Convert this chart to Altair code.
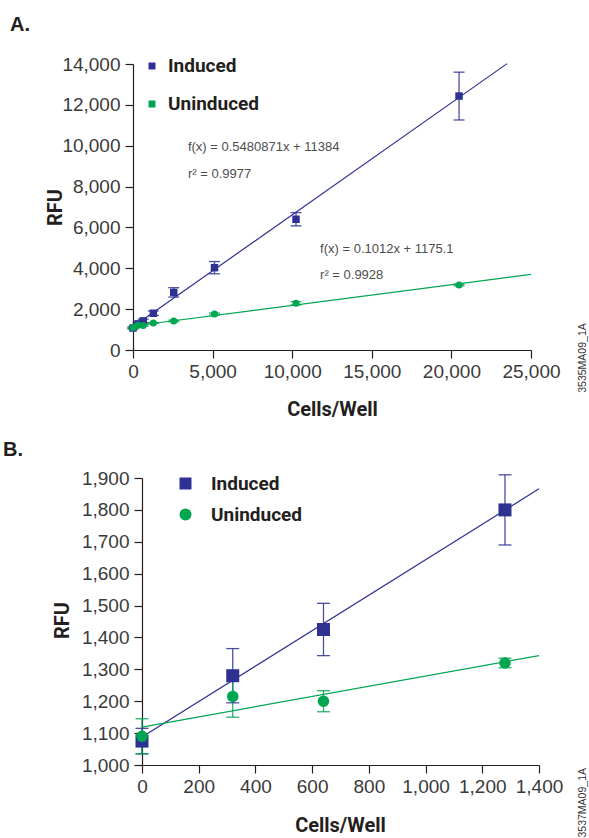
import altair as alt
import pandas as pd

# ---------------- data ----------------
series_names = ["Induced", "Uninduced"]

cells_a = [0, 320, 640, 1280, 2560, 5120, 10240, 20480]
induced_a = [1075, 1280, 1425, 1800, 2820, 4030, 6400, 12430]
induced_a_err = [40, 85, 82, 110, 230, 300, 325, 1170]
uninduced_a = [1090, 1215, 1200, 1320, 1420, 1760, 2285, 3180]
uninduced_a_err = [55, 65, 33, 15, 40, 50, 80, 40]

cells_b = [0, 320, 640, 1280]
induced_b = [1075, 1280, 1425, 1800]
induced_b_err = [40, 85, 82, 110]
uninduced_b = [1090, 1215, 1200, 1320]
uninduced_b_err = [55, 65, 33, 15]

# fitted lines (end points)
fit_a_x_induced = [0, 23500]
fit_a_y_induced = [1138, 14018]
fit_a_x_uninduced = [0, 25000]
fit_a_y_uninduced = [1175, 3705]
fit_b_x_induced = [0, 1400]
fit_b_y_induced = [1088, 1866]
fit_b_x_uninduced = [0, 1400]
fit_b_y_uninduced = [1119, 1343]

notes_a_text = ["f(x) = 0.5480871x + 11384", "r\u00b2 = 0.9977",
                "f(x) = 0.1012x + 1175.1", "r\u00b2 = 0.9928"]
notes_a_x = [3450, 3450, 11750, 11750]
notes_a_y = [9950, 8620, 4950, 3680]

BLUE = "#2e3192"
GREEN = "#00a651"
INK = "#231f20"
BOLD = "'Liberation Sans Narrow', Roboto, sans-serif"
REG = "'Liberation Sans', Arial, sans-serif"


def points_frame(cells, ind, ind_err, unind, unind_err):
    rows = []
    for c, v, e in zip(cells, ind, ind_err):
        rows.append({"cells": c, "rfu": v, "lo": v - e, "hi": v + e, "series": "Induced"})
    for c, v, e in zip(cells, unind, unind_err):
        rows.append({"cells": c, "rfu": v, "lo": v - e, "hi": v + e, "series": "Uninduced"})
    return pd.DataFrame(rows)


def fit_frame(xi, yi, xu, yu):
    rows = []
    for x, y in zip(xi, yi):
        rows.append({"cells": x, "rfu": y, "series": "Induced"})
    for x, y in zip(xu, yu):
        rows.append({"cells": x, "rfu": y, "series": "Uninduced"})
    return pd.DataFrame(rows)


color_scale = alt.Scale(domain=series_names, range=[BLUE, GREEN])
shape_scale = alt.Scale(domain=series_names, range=["square", "circle"])
stroke_enc = alt.Stroke("series:N", scale=color_scale, legend=None)


def make_panel(df, fit, xdom, xvals, ydom, yvals, w, h, msize, cap, legend,
               ytitle_pos, xtitle_pos, letter, letter_pos, code, code_pos, code_align,
               notes_df=None, manual_legend=None):
    xscale = alt.Scale(domain=xdom, nice=False)
    yscale = alt.Scale(domain=ydom, nice=False, zero=False)
    xaxis = alt.Axis(values=xvals, format=",d", title="Cells/Well",
                     titleX=xtitle_pos[0], titleY=xtitle_pos[1],
                     titleAlign="center", titleBaseline="middle")
    yaxis = alt.Axis(values=yvals, format=",d", title="RFU",
                     titleX=ytitle_pos[0], titleY=ytitle_pos[1], titleAngle=270,
                     titleAlign="center", titleBaseline="middle")

    def X(f):
        return alt.X(f, scale=xscale, axis=xaxis)

    def Y(f):
        return alt.Y(f, scale=yscale, axis=yaxis)

    base = alt.Chart(df)
    lines = alt.Chart(fit).mark_line(strokeWidth=1.2, clip=False).encode(
        x=X("cells:Q"), y=Y("rfu:Q"), stroke=stroke_enc, detail="series:N")
    rules = base.mark_rule(strokeWidth=1.3, opacity=0.85).encode(
        x=X("cells:Q"), y=Y("lo:Q"), y2="hi:Q", stroke=stroke_enc)
    half = cap / 2
    caps_lo = base.mark_rule(strokeWidth=1.3, opacity=0.85, xOffset=-half, x2Offset=half).encode(
        x=X("cells:Q"), x2="cells:Q", y=Y("lo:Q"), stroke=stroke_enc)
    caps_hi = base.mark_rule(strokeWidth=1.3, opacity=0.85, xOffset=-half, x2Offset=half).encode(
        x=X("cells:Q"), x2="cells:Q", y=Y("hi:Q"), stroke=stroke_enc)
    layers = [lines, rules, caps_lo, caps_hi]
    layers.append(base.mark_point(filled=True, opacity=1).encode(
        x=X("cells:Q"), y=Y("rfu:Q"),
        color=alt.Color("series:N", scale=color_scale, legend=legend),
        shape=alt.Shape("series:N", scale=shape_scale, legend=legend),
        size=alt.Size("series:N", scale=alt.Scale(domain=series_names, range=msize),
                      legend=None)))
    if notes_df is not None:
        layers.append(alt.Chart(notes_df).mark_text(
            font=REG, fontSize=13, color="#4d4d4d", align="left", baseline="middle").encode(
            x=X("x:Q"), y=Y("y:Q"), text="t:N"))
    if manual_legend is not None:
        sx, tx, y0, dy, ssz = manual_legend
        for i, (name, col) in enumerate(zip(series_names, [BLUE, GREEN])):
            item = alt.Chart(pd.DataFrame({"t": [name]}))
            layers.append(item.mark_point(filled=True, opacity=1, shape="square",
                                          size=ssz, color=col).encode(
                x=alt.value(sx), y=alt.value(y0 + dy * i)))
            layers.append(item.mark_text(font=BOLD, fontSize=19, fontWeight="bold",
                                         color=INK, align="left", baseline="middle").encode(
                text="t:N", x=alt.value(tx), y=alt.value(y0 + dy * i)))
    layers.append(alt.Chart(pd.DataFrame({"t": [letter]})).mark_text(
        font=REG, fontSize=20, fontWeight="bold", color=INK, align="left", baseline="middle"
    ).encode(text="t:N", x=alt.value(letter_pos[0]), y=alt.value(letter_pos[1])))
    layers.append(alt.Chart(pd.DataFrame({"t": [code]})).mark_text(
        font=REG, fontSize=10.5, color="#333333", angle=270, align=code_align, baseline="middle"
    ).encode(text="t:N", x=alt.value(code_pos[0]), y=alt.value(code_pos[1])))
    return alt.layer(*layers).properties(width=w, height=h)


df_a = points_frame(cells_a, induced_a, induced_a_err, uninduced_a, uninduced_a_err)
fit_a = fit_frame(fit_a_x_induced, fit_a_y_induced, fit_a_x_uninduced, fit_a_y_uninduced)
df_b = points_frame(cells_b, induced_b, induced_b_err, uninduced_b, uninduced_b_err)
fit_b = fit_frame(fit_b_x_induced, fit_b_y_induced, fit_b_x_uninduced, fit_b_y_uninduced)
notes_df = pd.DataFrame({"x": notes_a_x, "y": notes_a_y, "t": notes_a_text})

legend_b = alt.Legend(orient="none", legendX=34, legendY=-4, title=None,
                      labelFont=BOLD, labelFontSize=19, labelFontWeight="bold",
                      labelColor=INK, symbolSize=144, symbolStrokeWidth=0,
                      rowPadding=11, labelOffset=16, symbolOpacity=1)

panel_a = make_panel(df_a, fit_a, [0, 25000], [0, 5000, 10000, 15000, 20000, 25000],
                     [0, 14000], list(range(0, 14001, 2000)), 398, 286, [56, 50], 11,
                     None, (-78, 143), (199, 59), "A.", (-123, -39),
                     "3535MA09_1A", (450, 294), "center", notes_df,
                     manual_legend=(19, 35, 2, 38, 49))

panel_b = make_panel(df_b, fit_b, [0, 1400], list(range(0, 1401, 200)),
                     [1000, 1900], list(range(1000, 1901, 100)), 397, 287, [169, 133], 13,
                     legend_b, (-80, 142), (198, 60), "B.", (-139, -28),
                     "3537MA09_1A", (441, 290), "right")

spacer = alt.Chart(pd.DataFrame({"a": [0]})).mark_point(opacity=0).properties(width=9, height=287)
row_b = alt.hconcat(spacer, panel_b, spacing=0, bounds="flush").resolve_scale(
    color="independent", shape="independent")

chart = alt.vconcat(panel_a, row_b, spacing=128, bounds="flush").resolve_scale(
    x="independent", y="independent", color="independent", shape="independent",
    size="independent", stroke="independent"
).properties(
    autosize=alt.AutoSizeParams(type="none"),
    padding={"left": 133, "top": 64, "right": 456, "bottom": 774},
).configure_view(stroke=None).configure_axis(
    grid=False, domainColor=INK, tickColor=INK, domainWidth=1.2, tickWidth=1.2,
    tickSize=8, labelFont=REG, labelFontSize=19, labelColor="#3a3a3a",
    labelPadding=4, labelOverlap=False, labelFlush=False,
    titleFont=BOLD, titleFontSize=20, titleFontWeight="bold", titleColor=INK
).configure_axisY(labelPadding=5)

chart.save("out.html", embed_options={"renderer": "svg", "actions": False})
